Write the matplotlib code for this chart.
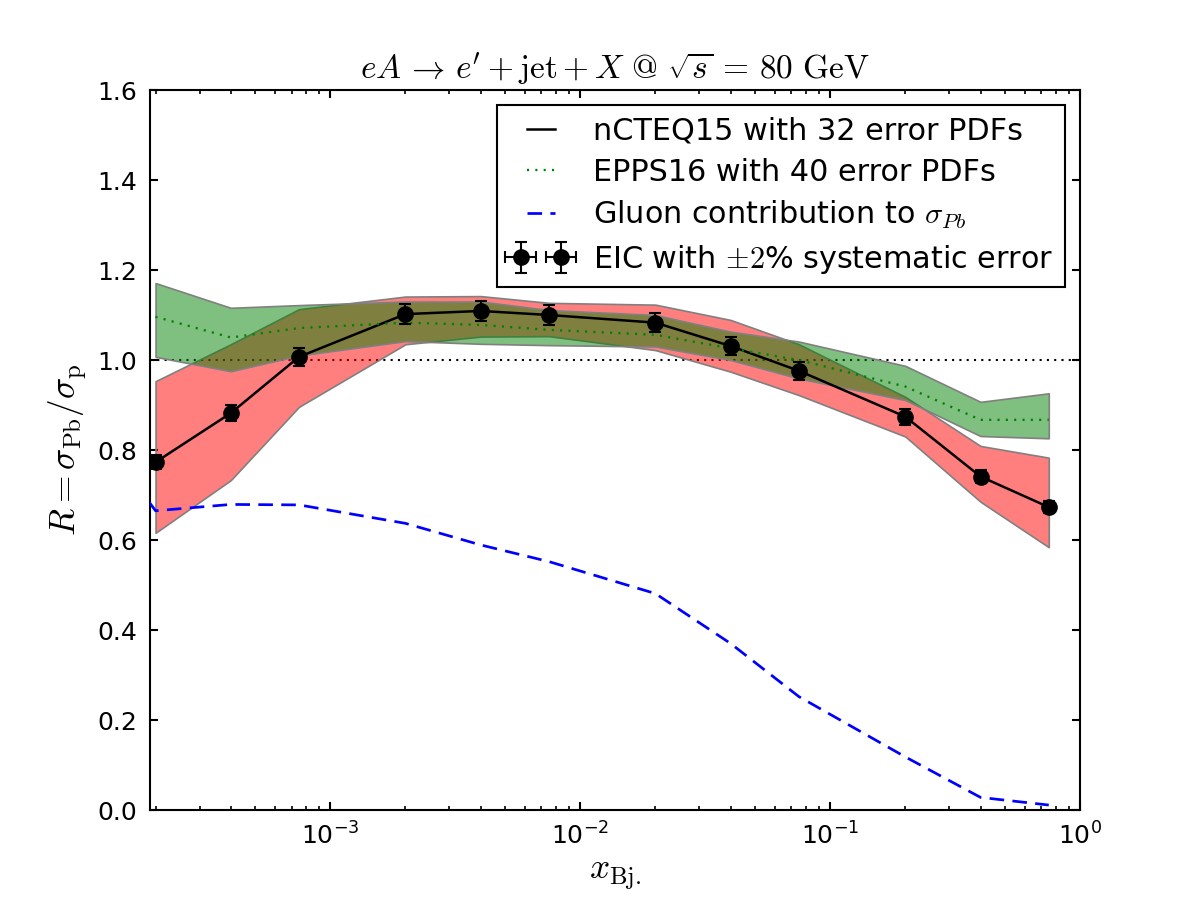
import numpy as np
import matplotlib
matplotlib.use('Agg')
import matplotlib.pyplot as plt
from matplotlib.font_manager import FontProperties
from matplotlib.container import ErrorbarContainer
from matplotlib.lines import Line2D
from matplotlib.legend_handler import HandlerErrorbar, HandlerLine2D

# ---------------- data ----------------
x_bj = [2e-4, 4e-4, 7.5e-4, 2e-3, 4e-3, 7.5e-3, 2e-2, 4e-2, 7.5e-2, 0.2, 0.4, 0.75]
ncteq_central = [0.773, 0.882, 1.007, 1.102, 1.109, 1.100, 1.083, 1.031, 0.976, 0.874, 0.741, 0.673]
ncteq_upper = [0.953, 1.035, 1.113, 1.141, 1.142, 1.127, 1.123, 1.089, 1.035, 0.918, 0.809, 0.783]
ncteq_lower = [0.616, 0.733, 0.896, 1.035, 1.052, 1.053, 1.022, 0.974, 0.922, 0.830, 0.685, 0.584]
epps_central = [1.096, 1.050, 1.071, 1.083, 1.078, 1.067, 1.056, 1.026, 1.000, 0.941, 0.867, 0.867]
epps_upper = [1.171, 1.116, 1.122, 1.130, 1.130, 1.111, 1.100, 1.063, 1.041, 0.987, 0.907, 0.926]
epps_lower = [1.007, 0.975, 1.010, 1.042, 1.036, 1.033, 1.030, 1.000, 0.959, 0.911, 0.831, 0.826]
gluon_x = [1e-4, 2e-4, 4e-4, 7.5e-4, 2e-3, 4e-3, 7.5e-3, 2e-2, 4e-2, 7.5e-2, 0.2, 0.4, 0.75]
gluon_ratio = [0.89, 0.665, 0.679, 0.678, 0.637, 0.589, 0.552, 0.481, 0.370, 0.252, 0.118, 0.028, 0.011]
eic_rel_err = 0.02

y_ticks = [0.0, 0.2, 0.4, 0.6, 0.8, 1.0, 1.2, 1.4, 1.6]

title = (r'$eA\,\rightarrow\,e^\prime + \mathrm{jet} + X\ \mathrm{@}\ '
         r'\sqrt{s}\,=\,80\ \mathrm{GeV}$')
xlabel = r'$x_{\rm Bj.}$'
ylabel = r'$R = \sigma_{\rm Pb}/\sigma_{\rm p}$'
lab_ncteq = 'nCTEQ15 with 32 error PDFs'
lab_epps = 'EPPS16 with 40 error PDFs'
lab_gluon = r'Gluon contribution to $\sigma_{Pb}$'
lab_eic = r'EIC with $\pm2$% systematic error'

# ---------------- style ----------------
plt.rcParams['font.family'] = ['DejaVu Sans']
plt.rcParams['axes.unicode_minus'] = False
plt.rcParams['lines.scale_dashes'] = False
plt.rcParams['axes.linewidth'] = 1.0
plt.rcParams['xtick.labelsize'] = 12
plt.rcParams['ytick.labelsize'] = 12

fig, ax = plt.subplots(figsize=(8, 6), dpi=150)
fig.subplots_adjust(left=0.125, right=0.9, bottom=0.1, top=0.9)

ax.axhline(1.0, color='black', lw=1.0, ls=(0, (1, 2.5)), zorder=1)
ax.fill_between(x_bj, ncteq_lower, ncteq_upper, facecolor=(1.0, 0.0, 0.0, 0.5),
                edgecolor=(0.5, 0.5, 0.5, 1.0), lw=0.8, zorder=2)
ax.fill_between(x_bj, epps_lower, epps_upper, facecolor=(0.0, 0.5, 0.0, 0.5),
                edgecolor=(0.5, 0.5, 0.5, 1.0), lw=0.8, zorder=2)
ax.plot(x_bj, ncteq_central, color='black', ls='-', lw=1.2, label=lab_ncteq, zorder=3)
ax.plot(x_bj, epps_central, color='green', ls=(0, (1, 3)), lw=1.1, label=lab_epps, zorder=3)
ax.plot(gluon_x, gluon_ratio, color='blue', ls=(0, (7, 4)), lw=1.3, label=lab_gluon, zorder=3)
eic_err = [eic_rel_err * v for v in ncteq_central]
ax.errorbar(x_bj, ncteq_central, yerr=eic_err, xerr=[0.0] * len(x_bj), fmt='o', color='black',
            ms=7, capsize=3, elinewidth=1, capthick=1, label=lab_eic, zorder=4)

ax.set_xscale('log')
ax.set_xlim(1.9e-4, 1.0)
ax.set_ylim(0, 1.6)
ax.set_yticks(y_ticks)
ax.set_yticklabels(['%.1f' % t for t in y_ticks])
ax.tick_params(which='both', direction='in', top=True, right=True)
ax.tick_params(which='major', length=4, width=1, pad=6)
ax.tick_params(which='minor', length=2, width=0.8)

ax.set_title(title, fontsize=16, math_fontfamily='cm')
ax.set_xlabel(xlabel, fontsize=17, math_fontfamily='cm')
ax.set_ylabel(ylabel, fontsize=17, math_fontfamily='cm')

prop = FontProperties(family='DejaVu Sans', size=14.5, math_fontfamily='cm')
leg = ax.legend(loc='upper right', prop=prop, numpoints=2, fancybox=False,
                edgecolor='black', framealpha=1, handlelength=1.85, handletextpad=0.95,
                labelspacing=0.4, borderpad=0.38,
                handler_map={ErrorbarContainer: HandlerErrorbar(numpoints=2, marker_pad=0.1, xpad=0.3),
                             Line2D: HandlerLine2D(xpad=0.3)})
leg.get_frame().set_linewidth(1.0)

fig.savefig('out.png', dpi=150)
